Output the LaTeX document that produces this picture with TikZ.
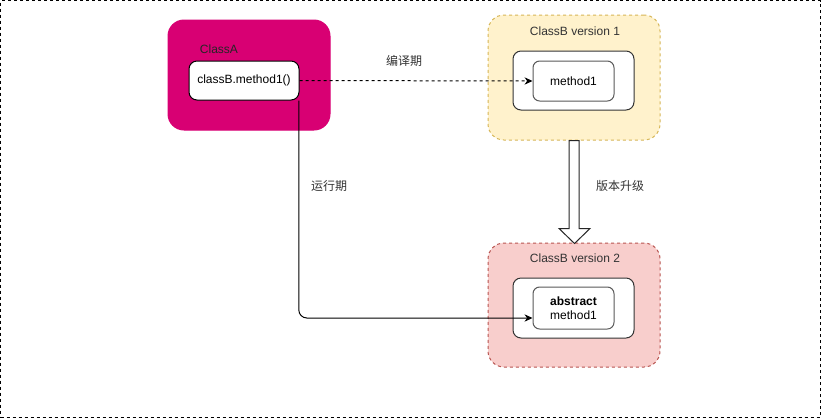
\documentclass[tikz,border=0pt]{standalone}
\usepackage{fontspec}
\setmainfont{Liberation Sans}
\newfontfamily\cjk{Noto Sans CJK SC}
\usetikzlibrary{arrows.meta,calc}
\definecolor{magentaA}{HTML}{D80073}
\definecolor{yelfill}{HTML}{FFF2CC}
\definecolor{yeldraw}{HTML}{D6B656}
\definecolor{redfill}{HTML}{F8CECC}
\definecolor{reddraw}{HTML}{B85450}
\definecolor{txt}{HTML}{333333}
\begin{document}
\begin{tikzpicture}[x=0.75pt,y=-0.75pt,
  font=\fontsize{9pt}{10.5pt}\selectfont,
  box/.style={draw, rectangle, inner sep=0pt, anchor=center},
  classbox/.style={box, rounded corners=12pt, line width=0.75pt},
  innerbox/.style={box, fill=white, draw=black!80, line width=0.75pt, rounded corners=6pt},
  methbox/.style={box, fill=white, draw=black!65, line width=0.75pt, rounded corners=5pt, align=center},
  lbl/.style={text=txt, inner sep=0pt, anchor=center},
  dsh/.style={dash pattern=on 2.25pt off 2.25pt},
  arr/.style={-{Stealth[length=6pt,width=5.5pt]}, line width=0.75pt, black}
]
\useasboundingbox (0,0) rectangle (821,419);
\node[box, draw=black, dsh, line width=0.75pt, minimum width=819.5pt*0.75, minimum height=417pt*0.75] (frame) at (410.25,209) {};

% ClassA
\node[classbox, fill=magentaA, draw=magentaA, minimum width=162*0.75pt, minimum height=110*0.75pt] (A) at (249,75) {};
\node[lbl, text=black!85] (Atitle) at (219,49) {ClassA};
\node[innerbox, draw=black, minimum width=110*0.75pt, minimum height=39*0.75pt] (cb) at (244,80.5) {classB.method1()};

% ClassB version 1
\node[classbox, fill=yelfill, draw=yeldraw, dsh, minimum width=172*0.75pt, minimum height=125*0.75pt] (v1) at (574,77.5) {};
\node[lbl] (v1title) at (575,31) {ClassB version 1};
\node[innerbox, minimum width=121*0.75pt, minimum height=59*0.75pt] (i1) at (573.5,80.5) {};
\node[methbox, minimum width=81*0.75pt, minimum height=40*0.75pt] (m1) at (573.5,81) {method1};

% ClassB version 2
\node[classbox, fill=redfill, draw=reddraw, dsh, minimum width=172*0.75pt, minimum height=124*0.75pt] (v2) at (574,305) {};
\node[lbl] (v2title) at (575,258) {ClassB version 2};
\node[innerbox, minimum width=121*0.75pt, minimum height=60*0.75pt] (i2) at (573.5,308) {};
\node[methbox, minimum width=81*0.75pt, minimum height=42*0.75pt] (m2) at (573.5,308) {\textbf{abstract}\\method1};

% connectors
\draw[arr, dsh] (cb.east) -- (m1.west);
\node[lbl] (lb1) at (404,61) {\cjk 编译期};
\draw[arr, rounded corners=6pt] ([xshift=-0.5pt]cb.south east) |- ([yshift=-7.5pt]m2.west);
\node[lbl] (lb2) at (329,186) {\cjk 运行期};

% big hollow arrow from v1 to v2
\draw[fill=white, draw=black!85, line width=0.75pt, line join=miter]
  ($(v1.south)+(-5,0)$) -- ($(v1.south)+(-5,88)$)
  -- ($(v1.south)+(-15,88)$) -- ($(v2.north)+(0.5,1)$)
  -- ($(v1.south)+(16,88)$) -- ($(v1.south)+(5,88)$)
  -- ($(v1.south)+(5,0)$) -- cycle;
\node[lbl] (lb3) at (620,186) {\cjk 版本升级};
\end{tikzpicture}
\end{document}
